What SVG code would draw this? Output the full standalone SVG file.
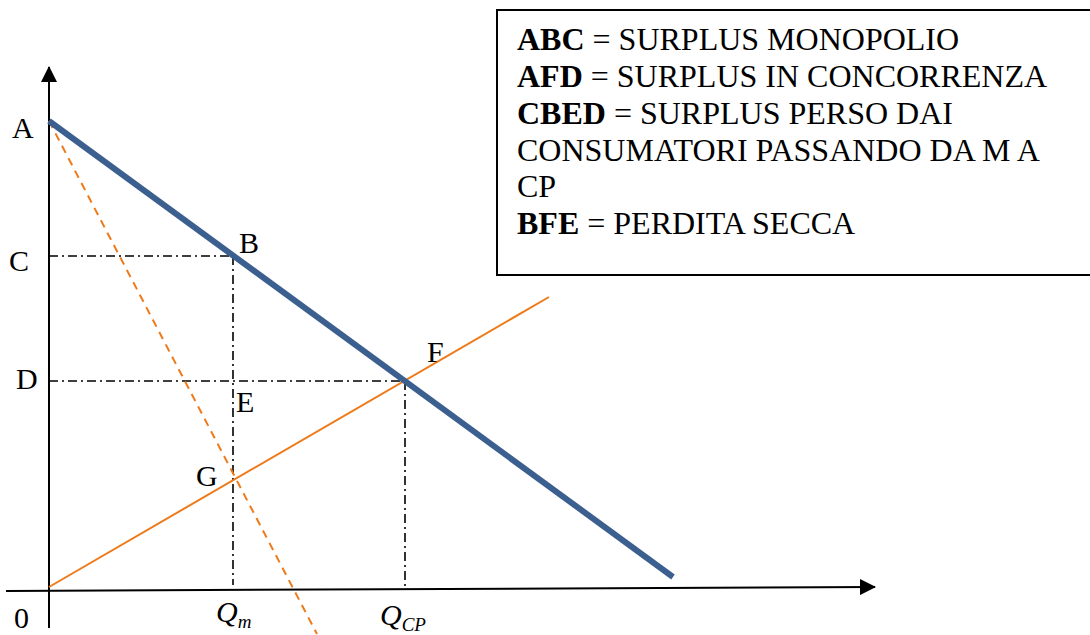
<svg xmlns="http://www.w3.org/2000/svg" width="1090" height="635" viewBox="0 0 1090 635">
<style>
.lbl{font-family:"Liberation Serif","Times New Roman",serif;font-size:30px;fill:#000}
.leg{font-family:"Liberation Serif","Times New Roman",serif;font-size:32px;fill:#000}
.b{font-weight:bold}
.axis{stroke:#000;stroke-width:2;fill:none}
.guide{stroke:#000;stroke-width:1.6;fill:none;stroke-dasharray:9 4 2 4}
.demand{stroke:#3B5F8F;stroke-width:6;fill:none}
.supply{stroke:#EE7A1A;stroke-width:2;fill:none}
.mr{stroke:#EE7A1A;stroke-width:2;fill:none;stroke-dasharray:8 6}
</style>
<defs>
<marker id="arr" markerWidth="16" markerHeight="16" refX="15" refY="8" orient="auto" markerUnits="userSpaceOnUse">
<path d="M0,0 L16,8 L0,16 Z" fill="#000"/>
</marker>
</defs>
<rect width="1090" height="635" fill="#fff"/>
<g id="connectors">
<line class="axis" x1="49" y1="628" x2="49" y2="67" marker-end="url(#arr)"/>
<line class="axis" x1="6" y1="591" x2="875" y2="587" marker-end="url(#arr)"/>
<line class="guide" x1="49" y1="256" x2="233" y2="256"/>
<line class="guide" x1="233" y1="256" x2="233" y2="585"/>
<line class="guide" x1="49" y1="381" x2="405" y2="381"/>
<line class="guide" x1="405" y1="381" x2="405" y2="586"/>
<line class="mr" x1="49" y1="121" x2="317" y2="634"/>
<line class="supply" x1="49" y1="587" x2="549" y2="297"/>
<line class="demand" x1="49" y1="121" x2="673" y2="577"/>
</g>
<g id="labels">
<text class="lbl" x="12" y="138">A</text>
<text class="lbl" x="9" y="271">C</text>
<text class="lbl" x="16" y="389">D</text>
<text class="lbl" x="14" y="628">0</text>
<text class="lbl" x="239" y="253">B</text>
<text class="lbl" x="236" y="412">E</text>
<text class="lbl" x="427" y="362">F</text>
<text class="lbl" x="196" y="486">G</text>
<text class="lbl" x="216" y="622" font-style="italic">Q<tspan font-size="19" dy="6">m</tspan></text>
<text class="lbl" x="380" y="625" font-style="italic">Q<tspan font-size="19" dy="6">CP</tspan></text>
</g>
<g id="legend">
<rect x="497" y="10" width="600" height="265" fill="#fff" stroke="#000" stroke-width="2"/>
<text class="leg" x="517" y="50"><tspan class="b">ABC</tspan> = SURPLUS MONOPOLIO</text>
<text class="leg" x="517" y="87"><tspan class="b">AFD</tspan> = SURPLUS IN CONCORRENZA</text>
<text class="leg" x="517" y="124"><tspan class="b">CBED</tspan> = SURPLUS PERSO DAI</text>
<text class="leg" x="517" y="161">CONSUMATORI PASSANDO DA M A</text>
<text class="leg" x="517" y="197">CP</text>
<text class="leg" x="517" y="234"><tspan class="b">BFE</tspan> = PERDITA SECCA</text>
</g>
</svg>
